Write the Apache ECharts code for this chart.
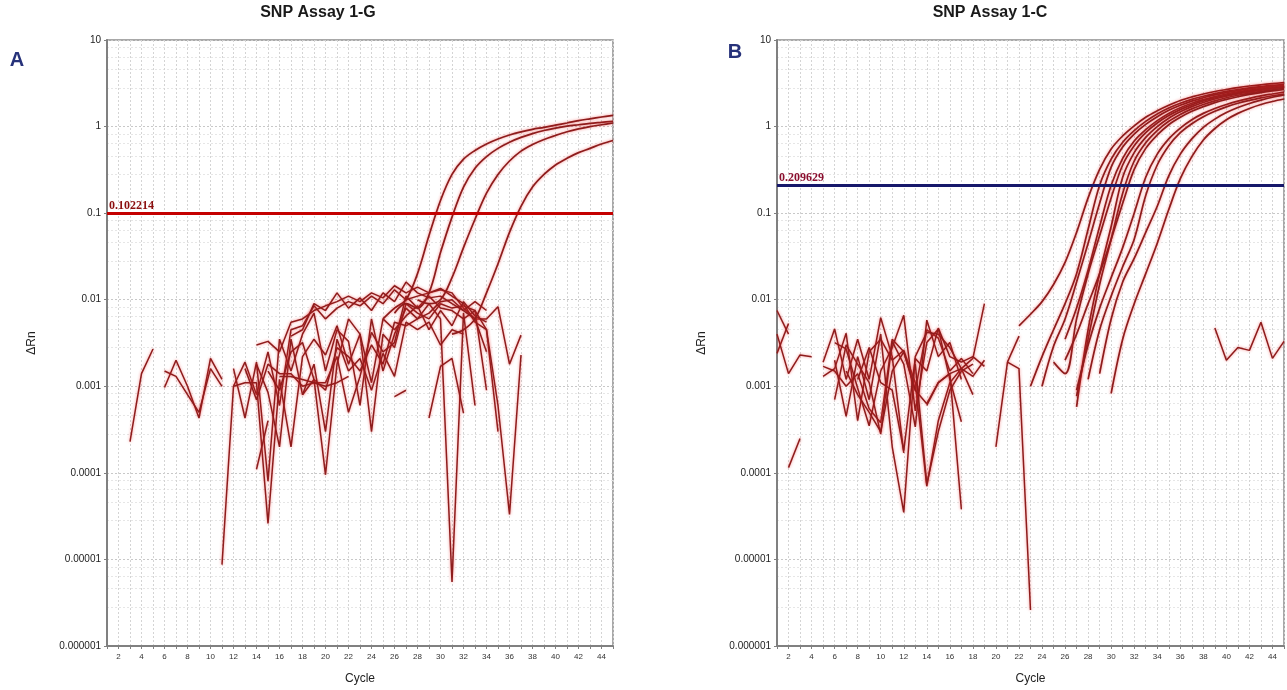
<!DOCTYPE html>
<html><head><meta charset="utf-8">
<script src="https://cdn.jsdelivr.net/npm/echarts@6/dist/echarts.min.js"></script>
<style>html,body{margin:0;padding:0;background:#fff}#c{width:1287px;height:690px}</style>
</head><body><div id="c"></div>
<script>
// ---------- DATA ----------
const titleA = 'SNP Assay 1-G';
const titleB = 'SNP Assay 1-C';
const thresholdA = 0.102214;
const thresholdB = 0.209629;
const cycleMin = 1, cycleMax = 45;
const yMin = 0.000001, yMax = 10;

// Panel A – amplification curves [cycle, ΔRn]
const aAmp1 = [[25,0.006],[26,0.008],[27,0.01],[28,0.02],[29,0.055],[30,0.14],[31,0.28],[32,0.42],[33,0.53],[34,0.63],[35,0.72],[36,0.8],[37,0.87],[38,0.93],[39,0.98],[40,1.04],[41,1.1],[42,1.17],[43,1.23],[44,1.29],[45,1.35]];
const aAmp2 = [[26,0.007],[27,0.009],[28,0.008],[29,0.012],[30,0.035],[31,0.09],[32,0.2],[33,0.33],[34,0.45],[35,0.56],[36,0.66],[37,0.75],[38,0.83],[39,0.9],[40,0.96],[41,1.01],[42,1.05],[43,1.09],[44,1.12],[45,1.15]];
const aAmp3 = [[28,0.01],[29,0.009],[30,0.01],[31,0.018],[32,0.04],[33,0.085],[34,0.17],[35,0.28],[36,0.4],[37,0.52],[38,0.62],[39,0.71],[40,0.79],[41,0.87],[42,0.94],[43,1.0],[44,1.05],[45,1.1]];
const aAmp4 = [[31,0.004],[32,0.0045],[33,0.006],[34,0.012],[35,0.026],[36,0.06],[37,0.12],[38,0.2],[39,0.28],[40,0.36],[41,0.43],[42,0.5],[43,0.56],[44,0.63],[45,0.69]];

// Panel A – background noise traces
const aN01 = [[3,0.00023],[4,0.0014],[5,0.0027]];
const aN02 = [[6,0.00097],[7,0.002],[8,0.001],[9,0.00043],[10,0.0021],[11,0.0012]];
const aN03 = [[6,0.0015],[7,0.0013],[8,0.0008],[9,0.0005],[10,0.0016],[11,0.001]];
const aN04 = [[11,0.0000087],[12,0.001],[13,0.0019],[14,0.0008],[15,0.0025],[16,0.0006],[17,0.0045],[18,0.005],[19,0.0085],[20,0.006],[21,0.008],[22,0.0095],[23,0.0085],[24,0.011],[25,0.009],[26,0.013],[27,0.01],[28,0.011],[29,0.012],[30,0.013],[31,0.012],[32,0.008],[33,0.006],[34,0.006],[35,0.0083],[36,0.0018],[37,0.0039]];
const aN05 = [[12,0.0016],[13,0.00043],[14,0.0019],[15,0.00008],[16,0.0035],[17,0.0015],[18,0.004],[19,0.007],[20,0.0015],[21,0.0045],[22,0.0033],[23,0.0006],[24,0.006],[25,0.0015],[26,0.004],[27,0.008],[28,0.006],[29,0.009],[30,0.006],[31,0.0000055],[32,0.007],[33,0.0006]];
const aN06 = [[12,0.001],[13,0.0011],[14,0.0011],[15,0.000026],[16,0.0012],[17,0.0002],[18,0.0022],[19,0.0035],[20,0.0023],[21,0.005],[22,0.0018],[23,0.004],[24,0.0003],[25,0.004],[26,0.0028],[27,0.009],[28,0.007],[29,0.006],[30,0.009],[31,0.008],[32,0.0085],[33,0.0075],[34,0.0009]];
const aN07 = [[13,0.0016],[14,0.0007],[15,0.0018],[16,0.0014],[17,0.0014],[18,0.001],[19,0.0011],[20,0.0011],[21,0.0022],[22,0.0005],[23,0.0013],[24,0.0042],[25,0.0025],[26,0.0032],[27,0.011],[28,0.008],[29,0.011],[30,0.008],[31,0.0075],[32,0.006],[33,0.0075],[34,0.0045],[35,0.0003]];
const aN08 = [[14,0.003],[15,0.0033],[16,0.0025],[17,0.0055],[18,0.006],[19,0.0075],[20,0.0085],[21,0.0095],[22,0.011],[23,0.0095],[24,0.012],[25,0.0105],[26,0.0145],[27,0.012],[28,0.014],[29,0.012],[30,0.0135],[31,0.011],[32,0.009],[33,0.0055],[34,0.0045],[35,0.0006],[36,0.000033],[37,0.0023]];
const aN09 = [[14,0.00011],[15,0.0004]];
const aN10 = [[14,0.0018],[15,0.00085],[16,0.0002],[17,0.0035],[18,0.0008],[19,0.0012],[20,0.000095],[21,0.0018],[22,0.006],[23,0.004],[24,0.0011],[25,0.006],[26,0.0045],[27,0.0065],[28,0.0085],[29,0.0045],[30,0.0075],[31,0.005],[32,0.0095],[33,0.0065],[34,0.0055]];
const aN11 = [[15,0.0015],[16,0.0009],[17,0.0025],[18,0.0032],[19,0.0012],[20,0.0009],[21,0.0028],[22,0.0022],[23,0.0015],[24,0.003],[25,0.0018],[26,0.0055],[27,0.005],[28,0.006],[29,0.007],[30,0.0095],[31,0.01],[32,0.0075],[33,0.0095],[34,0.0075]];
const aN12 = [[16,0.0013],[17,0.0013],[18,0.0012],[19,0.0011],[20,0.001],[21,0.0011],[22,0.0013]];
const aN13 = [[17,0.0038],[18,0.0045],[19,0.009],[20,0.0075],[21,0.012],[22,0.008],[23,0.0105],[24,0.0075],[25,0.012],[26,0.0095],[27,0.016],[28,0.012],[29,0.0105],[30,0.011],[31,0.009],[32,0.0075],[33,0.006],[34,0.0025]];
const aN14 = [[18,0.0008],[19,0.0018],[20,0.0003],[21,0.0035],[22,0.0015],[23,0.0021],[24,0.0009],[25,0.0024],[26,0.0013],[27,0.0055],[28,0.0045],[29,0.0055],[30,0.003],[31,0.0045],[32,0.004]];
const aN15 = [[26,0.00076],[27,0.0009]];
const aN16 = [[29,0.00043],[30,0.0017],[31,0.0021],[32,0.00049]];

// Panel B – amplification curves
const bAmp01 = [[22,0.005],[23,0.0068],[24,0.0095],[25,0.015],[26,0.027],[27,0.06],[28,0.15],[29,0.32],[30,0.55],[31,0.78],[32,1.02],[33,1.28],[34,1.52],[35,1.76],[36,2.0],[37,2.2],[38,2.38],[39,2.54],[40,2.68],[41,2.82],[42,2.94],[43,3.04],[44,3.13],[45,3.22]];
const bAmp02 = [[23,0.001],[24,0.0022],[25,0.0045],[26,0.009],[27,0.02],[28,0.065],[29,0.21],[30,0.42],[31,0.66],[32,0.9],[33,1.15],[34,1.4],[35,1.64],[36,1.86],[37,2.06],[38,2.24],[39,2.4],[40,2.55],[41,2.68],[42,2.8],[43,2.9],[44,2.99],[45,3.07]];
const bAmp03 = [[24,0.001],[25,0.0029],[26,0.006],[27,0.016],[28,0.045],[29,0.13],[30,0.34],[31,0.58],[32,0.82],[33,1.06],[34,1.3],[35,1.54],[36,1.76],[37,1.97],[38,2.15],[39,2.32],[40,2.47],[41,2.6],[42,2.72],[43,2.83],[44,2.93],[45,3.02]];
const bAmp04 = [[26,0.0035],[27,0.008],[28,0.022],[29,0.07],[30,0.21],[31,0.43],[32,0.68],[33,0.92],[34,1.17],[35,1.42],[36,1.65],[37,1.86],[38,2.05],[39,2.22],[40,2.38],[41,2.52],[42,2.64],[43,2.75],[44,2.85],[45,2.94]];
const bAmp05 = [[25,0.0019],[26,0.0014],[27,0.006],[28,0.02],[29,0.055],[30,0.15],[31,0.36],[32,0.6],[33,0.85],[34,1.1],[35,1.34],[36,1.57],[37,1.78],[38,1.98],[39,2.15],[40,2.31],[41,2.45],[42,2.58],[43,2.69],[44,2.79],[45,2.88]];
const bAmp06 = [[27,0.00058],[28,0.0045],[29,0.02],[30,0.07],[31,0.26],[32,0.5],[33,0.75],[34,1.0],[35,1.25],[36,1.48],[37,1.7],[38,1.9],[39,2.08],[40,2.24],[41,2.39],[42,2.52],[43,2.64],[44,2.74],[45,2.84]];
const bAmp07 = [[27,0.00077],[28,0.0035],[29,0.015],[30,0.05],[31,0.17],[32,0.4],[33,0.65],[34,0.9],[35,1.15],[36,1.38],[37,1.6],[38,1.8],[39,1.98],[40,2.15],[41,2.3],[42,2.43],[43,2.55],[44,2.66],[45,2.76]];
const bAmp08 = [[26,0.002],[27,0.004],[28,0.009],[29,0.02],[30,0.05],[31,0.13],[32,0.32],[33,0.56],[34,0.8],[35,1.05],[36,1.28],[37,1.5],[38,1.7],[39,1.89],[40,2.06],[41,2.21],[42,2.35],[43,2.47],[44,2.58],[45,2.68]];
const bAmp09 = [[27,0.0009],[28,0.003],[29,0.008],[30,0.018],[31,0.04],[32,0.1],[33,0.26],[34,0.48],[35,0.72],[36,0.96],[37,1.2],[38,1.42],[39,1.62],[40,1.8],[41,1.97],[42,2.12],[43,2.26],[44,2.38],[45,2.5]];
const bAmp10 = [[28,0.0012],[29,0.0045],[30,0.011],[31,0.024],[32,0.05],[33,0.16],[34,0.36],[35,0.6],[36,0.85],[37,1.08],[38,1.3],[39,1.5],[40,1.69],[41,1.86],[42,2.01],[43,2.15],[44,2.27],[45,2.38]];
const bAmp11 = [[29,0.0014],[30,0.006],[31,0.016],[32,0.03],[33,0.06],[34,0.12],[35,0.27],[36,0.48],[37,0.72],[38,0.98],[39,1.22],[40,1.45],[41,1.66],[42,1.85],[43,2.02],[44,2.18],[45,2.32]];
const bAmp12 = [[30,0.00083],[31,0.0035],[32,0.009],[33,0.02],[34,0.045],[35,0.11],[36,0.25],[37,0.45],[38,0.7],[39,0.95],[40,1.2],[41,1.42],[42,1.62],[43,1.8],[44,1.95],[45,2.08]];

// Panel B – background noise traces
const bN01 = [[1,0.0075],[2,0.004]];
const bN02 = [[1,0.0024],[2,0.0053]];
const bN03 = [[1,0.004],[2,0.0014],[3,0.0023],[4,0.0022]];
const bN04 = [[2,0.000115],[3,0.00025]];
const bN05 = [[5,0.0019],[6,0.0046],[7,0.0012],[8,0.0035],[9,0.0012],[10,0.0062],[11,0.0022],[12,0.00017]];
const bN06 = [[5,0.0017],[6,0.0015],[7,0.001],[8,0.0014],[9,0.00055],[10,0.00038],[11,0.0035],[12,0.0025],[13,0.0009],[14,0.0045],[15,0.0036],[16,0.0015],[17,0.0021],[18,0.0014]];
const bN07 = [[5,0.0013],[6,0.0016],[7,0.0041],[8,0.0004],[9,0.0025],[10,0.0035],[11,0.002],[12,0.0026],[13,0.0011],[14,0.00007],[15,0.0004],[16,0.0011],[17,0.0016],[18,0.0021],[19,0.009]];
const bN08 = [[6,0.0032],[7,0.0027],[8,0.00095],[9,0.00035],[10,0.0015],[11,0.0028],[12,0.0066],[13,0.00052],[14,0.0032],[15,0.0046],[16,0.0012],[17,0.00039]];
const bN09 = [[6,0.0007],[7,0.003],[8,0.0018],[9,0.0011],[10,0.00028],[11,0.0033],[12,0.0018],[13,0.00034],[14,0.0058],[15,0.0022],[16,0.0032],[17,0.0012]];
const bN10 = [[6,0.002],[7,0.00045],[8,0.0022],[9,0.0007],[10,0.004],[11,0.0002],[12,0.000035],[13,0.0022],[14,0.0042],[15,0.004],[16,0.0028],[17,0.0016],[18,0.0008]];
const bN11 = [[7,0.0015],[8,0.0008],[9,0.0005],[10,0.0003],[11,0.0015],[12,0.0025],[13,0.0009],[14,0.00063],[15,0.0011],[16,0.0014],[17,0.000038]];
const bN12 = [[8,0.0012],[9,0.0028],[10,0.0011],[11,0.0009],[12,0.00018],[13,0.0021],[14,0.0015],[15,0.0047],[16,0.0022],[17,0.0019],[18,0.0022],[19,0.0017]];
const bN13 = [[13,0.0018],[14,0.000074],[15,0.0003],[16,0.0009],[17,0.0015],[18,0.0018]];
const bN14 = [[14,0.0006],[15,0.0011],[16,0.0014],[17,0.0016],[18,0.0013],[19,0.002]];
const bN15 = [[20,0.0002],[21,0.0019],[22,0.0016],[23,0.0000026]];
const bN16 = [[21,0.0019],[22,0.0038]];
const bN17 = [[39,0.0047],[40,0.002],[41,0.0028],[42,0.0026],[43,0.0055],[44,0.0021],[45,0.0033]];

const ampA = [aAmp1, aAmp2, aAmp3, aAmp4];
const noiseA = [aN01,aN02,aN03,aN04,aN05,aN06,aN07,aN08,aN09,aN10,aN11,aN12,aN13,aN14,aN15,aN16];
const ampB = [bAmp01,bAmp02,bAmp03,bAmp04,bAmp05,bAmp06,bAmp07,bAmp08,bAmp09,bAmp10,bAmp11,bAmp12];
const noiseB = [bN01,bN02,bN03,bN04,bN05,bN06,bN07,bN08,bN09,bN10,bN11,bN12,bN13,bN14,bN15,bN16,bN17];

// ---------- CHART ----------
const LINE = '#8e1c1c';
const GRIDC = '#d4d4d4';
function fmtY(v){ const e = Math.round(Math.log10(v)); return e >= 0 ? String(Math.round(v)) : v.toFixed(-e); }

function trace(data, idx, amp){
  return {
    type:'line', xAxisIndex:idx, yAxisIndex:idx, data:data,
    showSymbol:false, symbol:'none', smooth: amp ? 0.35 : false,
    lineStyle:{color:LINE, width: amp ? 1.7 : 1.5, shadowColor:'rgba(235,40,40,0.55)', shadowBlur:3},
    silent:true, animation:false, z:3
  };
}
function thresholdSeries(idx, value, color, labelColor){
  return {
    type:'line', xAxisIndex:idx, yAxisIndex:idx, data:[], silent:true, animation:false, z:4,
    markLine:{
      symbol:'none', silent:true, animation:false,
      data:[{yAxis:value}],
      lineStyle:{color:color, width:3, type:'solid'},
      label:{show:true, position:'insideStartTop', distance:[2,1], formatter:String(value),
             color:labelColor, fontFamily:'"Liberation Serif","DejaVu Serif",serif', fontWeight:'bold', fontSize:12}
    }
  };
}
function xAxisCfg(idx){
  return {
    type:'value', gridIndex:idx, min:cycleMin, max:cycleMax, interval:1,
    name:'Cycle', nameLocation:'middle', nameGap:27,
    nameTextStyle:{color:'#222', fontSize:12, fontFamily:'"Liberation Sans",Arial,sans-serif'},
    axisLine:{show:true, lineStyle:{color:'#808080', width:2}},
    axisTick:{show:true, length:3, lineStyle:{color:'#808080'}},
    axisLabel:{fontSize:8, color:'#333', margin:7, fontFamily:'"Liberation Sans",Arial,sans-serif',
               formatter: v => (v % 2 === 0 ? String(v) : '')},
    splitLine:{show:true, lineStyle:{color:GRIDC, type:[2,2], width:1}}
  };
}
function yAxisCfg(idx){
  return {
    type:'log', logBase:10, gridIndex:idx, min:yMin, max:yMax,
    name:'ΔRn', nameLocation:'middle', nameGap:69,
    nameTextStyle:{color:'#222', fontSize:12, fontFamily:'"Liberation Sans",Arial,sans-serif'},
    axisLine:{show:true, lineStyle:{color:'#808080', width:2}},
    axisTick:{show:true, length:3, lineStyle:{color:'#808080'}},
    axisLabel:{fontSize:10, color:'#222', margin:6, fontFamily:'"Liberation Sans",Arial,sans-serif', formatter: fmtY},
    splitLine:{show:true, lineStyle:{color:'#c8c8c8', type:[2,2], width:1}},
    minorTick:{show:false, splitNumber:5},
    minorSplitLine:{show:true, lineStyle:{color:'#e6e6e6', type:[2,2], width:1}}
  };
}

const series = [];
noiseA.forEach(d => series.push(trace(d, 0, false)));
ampA.forEach(d => series.push(trace(d, 0, true)));
noiseB.forEach(d => series.push(trace(d, 1, false)));
ampB.forEach(d => series.push(trace(d, 1, true)));
series.push(thresholdSeries(0, thresholdA, '#c40000', '#8b1010'));
series.push(thresholdSeries(1, thresholdB, '#16186a', '#8b1030'));

const chart = echarts.init(document.getElementById('c'), null, {renderer:'canvas'});
chart.setOption({
  backgroundColor:'#ffffff',
  animation:false,
  grid:[
    {left:107, top:40, width:506, height:609, show:true, borderColor:'#8c8c8c', borderWidth:1.5, backgroundColor:'#fff'},
    {left:777, top:40, width:511, height:616, show:true, borderColor:'#8c8c8c', borderWidth:1.5, backgroundColor:'#fff'}
  ],
  xAxis:[xAxisCfg(0), xAxisCfg(1)],
  yAxis:[yAxisCfg(0), yAxisCfg(1)],
  graphic:[
    {type:'text', x:318, y:13, style:{text:titleA, fill:'#1a1a1a', font:'bold 16px "Liberation Sans", Arial, sans-serif', textAlign:'center', textVerticalAlign:'middle'}},
    {type:'text', x:990, y:13, style:{text:titleB, fill:'#1a1a1a', font:'bold 16px "Liberation Sans", Arial, sans-serif', textAlign:'center', textVerticalAlign:'middle'}},
    {type:'text', x:17, y:60, style:{text:'A', fill:'#27327a', font:'bold 20px "Liberation Sans", Arial, sans-serif', textAlign:'center', textVerticalAlign:'middle'}},
    {type:'text', x:735, y:52, style:{text:'B', fill:'#27327a', font:'bold 20px "Liberation Sans", Arial, sans-serif', textAlign:'center', textVerticalAlign:'middle'}}
  ],
  series: series
});
</script>
</body></html>
